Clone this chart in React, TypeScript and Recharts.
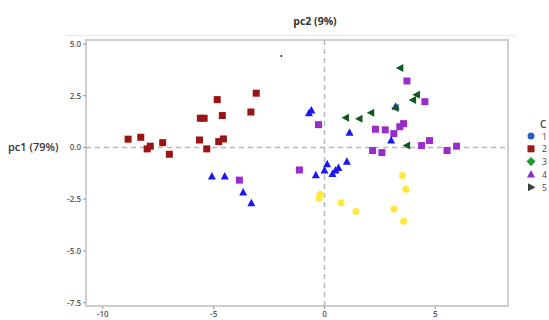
import { ScatterChart, Scatter, XAxis, YAxis, ReferenceLine, ReferenceArea } from 'recharts';

// PCA scores, one array per group
const redSquares = [
  { x: -8.86, y: 0.4 }, { x: -8.29, y: 0.49 }, { x: -8.0, y: -0.07 }, { x: -7.86, y: 0.06 },
  { x: -7.3, y: 0.23 }, { x: -7.0, y: -0.33 }, { x: -5.64, y: 0.36 }, { x: -5.6, y: 1.41 },
  { x: -5.43, y: 1.41 }, { x: -5.31, y: -0.07 }, { x: -4.84, y: 2.31 }, { x: -4.77, y: 0.28 },
  { x: -4.61, y: 1.54 }, { x: -4.56, y: 0.41 }, { x: -3.32, y: 1.71 }, { x: -3.08, y: 2.62 },
];
const blueTriangles = [
  { x: -0.7, y: 1.65 }, { x: -0.59, y: 1.78 }, { x: 1.13, y: 0.71 }, { x: 3.21, y: 1.97 },
  { x: 3.01, y: 0.33 }, { x: 0.12, y: -0.81 }, { x: 0.0, y: -1.12 }, { x: -0.39, y: -1.34 },
  { x: 0.36, y: -1.28 }, { x: 0.5, y: -1.12 }, { x: 0.63, y: -0.99 }, { x: 1.01, y: -0.69 },
  { x: -5.08, y: -1.41 }, { x: -4.5, y: -1.41 }, { x: -3.67, y: -2.18 }, { x: -3.3, y: -2.7 },
];
const purpleSquares = [
  { x: 3.72, y: 3.21 }, { x: 4.53, y: 2.21 }, { x: -0.27, y: 1.1 }, { x: 2.3, y: 0.88 },
  { x: 2.74, y: 0.85 }, { x: 3.13, y: 0.67 }, { x: 3.4, y: 1.0 }, { x: 3.57, y: 1.15 },
  { x: 2.17, y: -0.15 }, { x: 2.59, y: -0.25 }, { x: 4.38, y: 0.09 }, { x: 4.74, y: 0.33 },
  { x: 5.53, y: -0.15 }, { x: 5.96, y: 0.06 }, { x: -1.13, y: -1.09 }, { x: -3.84, y: -1.58 },
];
const greenArrows = [
  { x: 3.42, y: 3.84 }, { x: 4.17, y: 2.55 }, { x: 4.0, y: 2.29 }, { x: 3.21, y: 1.91 },
  { x: 2.11, y: 1.67 }, { x: 1.58, y: 1.39 }, { x: 0.97, y: 1.44 }, { x: 3.73, y: 0.09 },
];
const yellowDots = [
  { x: -0.19, y: -2.26 }, { x: -0.24, y: -2.45 }, { x: 0.75, y: -2.67 }, { x: 1.42, y: -3.1 },
  { x: 3.52, y: -1.36 }, { x: 3.67, y: -2.02 }, { x: 3.13, y: -2.97 }, { x: 3.57, y: -3.57 },
];
const strayPoint = [{ x: -1.95, y: 4.42 }];

const xTicks = [-10, -5, 0, 5];
const yTicks = [5, 2.5, 0, -2.5, -5, -7.5];
const legendLabels = ['1', '2', '3', '4', '5'];

const xDomain = [-10.76, 8.28];
const yDomain = [-7.66, 5.19];

const tickStyle = { fontSize: 8, fontWeight: 600, fill: '#555', fontFamily: 'Open Sans, sans-serif' };

const square = (color: string) => (p: any) => (
  <rect x={p.cx - 3.5} y={p.cy - 3.5} width={7} height={7} fill={color} />
);
const triangleUp = (color: string) => (p: any) => (
  <polygon points={`${p.cx},${p.cy - 4.5} ${p.cx + 4},${p.cy + 3} ${p.cx - 4},${p.cy + 3}`} fill={color} />
);
const triangleLeft = (color: string) => (p: any) => (
  <polygon points={`${p.cx - 4.5},${p.cy} ${p.cx + 3},${p.cy - 4} ${p.cx + 3},${p.cy + 4}`} fill={color} />
);
const dot = (color: string, r: number) => (p: any) => <circle cx={p.cx} cy={p.cy} r={r} fill={color} />;

function LegendMark({ i, y }: { i: number; y: number }) {
  const x = 531;
  if (i === 0) return <circle cx={x} cy={y} r={3.5} fill="#2463c4" />;
  if (i === 1) return <rect x={x - 3.5} y={y - 3.5} width={7} height={7} fill="#a01818" />;
  if (i === 2) return <polygon points={`${x},${y - 4.5} ${x + 4.5},${y} ${x},${y + 4.5} ${x - 4.5},${y}`} fill="#1f9a2c" />;
  if (i === 3) return <polygon points={`${x},${y - 4.5} ${x + 4},${y + 3} ${x - 4},${y + 3}`} fill="#8a2fc8" />;
  return <polygon points={`${x + 4.5},${y} ${x - 3},${y - 4} ${x - 3},${y + 4}`} fill="#404040" />;
}

export default function App() {
  return (
    <div style={{ position: 'absolute', left: 0, top: 0, width: 549, height: 320, background: '#fff', overflow: 'hidden' }}>
      <div style={{ position: 'absolute', left: 66, top: 35, width: 450, height: 1, background: '#e6e6e6' }} />
      <div
        style={{
          position: 'absolute', left: 265, top: 14, width: 100, textAlign: 'center',
          fontFamily: 'Open Sans, sans-serif', fontWeight: 700, fontSize: 10.5, color: '#333',
        }}
      >
        pc2 (9%)
      </div>
      <div
        style={{
          position: 'absolute', left: 8, top: 139,
          fontFamily: 'Open Sans, sans-serif', fontWeight: 600, fontSize: 11, color: '#333',
        }}
      >
        pc1 (79%)
      </div>
      <ScatterChart width={549} height={320} margin={{ top: 40, right: 41, bottom: 0, left: 60 }}>
        <XAxis
          type="number"
          dataKey="x"
          domain={xDomain}
          ticks={xTicks}
          allowDataOverflow
          axisLine={false}
          tickLine={{ stroke: '#999' }}
          tickSize={3}
          height={14}
          tick={tickStyle}
        />
        <YAxis
          type="number"
          dataKey="y"
          domain={yDomain}
          ticks={yTicks}
          allowDataOverflow
          axisLine={false}
          tickLine={{ stroke: '#999' }}
          tickSize={3}
          width={26}
          tick={tickStyle}
          tickFormatter={(v: number) => v.toFixed(1)}
        />
        <ReferenceArea x1={xDomain[0]} x2={xDomain[1]} y1={yDomain[0]} y2={yDomain[1]} fill="none" stroke="#cfcfcf" strokeWidth={2} />
        <ReferenceLine x={0} stroke="#b8b8b8" strokeDasharray="5 4" strokeWidth={1.5} />
        <ReferenceLine y={0} stroke="#b8b8b8" strokeDasharray="5 4" strokeWidth={1.5} />
        <Scatter data={redSquares} shape={square('#9c1313')} isAnimationActive={false} />
        <Scatter data={purpleSquares} shape={square('#9a2ccc')} isAnimationActive={false} />
        <Scatter data={blueTriangles} shape={triangleUp('#1a1af0')} isAnimationActive={false} />
        <Scatter data={greenArrows} shape={triangleLeft('#0e5a1e')} isAnimationActive={false} />
        <Scatter data={yellowDots} shape={dot('#ffe83a', 3.5)} isAnimationActive={false} />
        <Scatter data={strayPoint} shape={dot('#333', 1)} isAnimationActive={false} />
      </ScatterChart>
      <svg style={{ position: 'absolute', left: 0, top: 0 }} width={549} height={320}>
        <text x={540} y={128} fontSize={10} fontFamily="Open Sans, sans-serif" fontWeight={600} fill="#444">C</text>
        {legendLabels.map((label, i) => (
          <g key={label}>
            <LegendMark i={i} y={136 + i * 12.8} />
            <text x={542} y={139.5 + i * 12.8} fontSize={8.5} fontFamily="Open Sans, sans-serif" fill="#444">{label}</text>
          </g>
        ))}
      </svg>
    </div>
  );
}
